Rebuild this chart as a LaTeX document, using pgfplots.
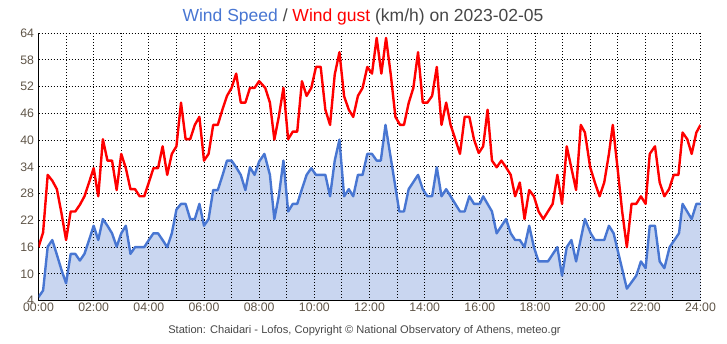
\documentclass[border=0pt]{standalone}
\usepackage{pgfplots}
\pgfplotsset{compat=1.18}
\usepackage{fontspec}
\setmainfont{Liberation Sans}
\definecolor{speedline}{RGB}{72,118,210}
\definecolor{speedfill}{RGB}{201,214,240}
\definecolor{gustline}{RGB}{255,0,0}
\definecolor{ticktext}{RGB}{95,85,72}
\definecolor{titlegray}{RGB}{70,70,70}
\begin{document}
\begin{tikzpicture}
\begin{axis}[
  set layers,
  at={(0,0)}, anchor=south west,
  scale only axis,
  width=662bp, height=267.7bp,
  xmin=0, xmax=24, ymin=4, ymax=64,
  xtick={0,2,...,24},
  xticklabels={00:00,02:00,04:00,06:00,08:00,10:00,12:00,14:00,16:00,18:00,20:00,22:00,24:00},
  minor xtick={1,3,...,23},
  ytick={4,10,...,64},
  grid=both,
  major grid style={black, line width=0.9bp, dash pattern=on 1bp off 2bp},
  minor grid style={black, line width=0.9bp, dash pattern=on 1bp off 2bp},
  major tick length=0pt, minor tick length=0pt,
  axis x line*=bottom, axis y line*=left,
  axis line style={black, line width=1.2bp, -},
  /pgf/number format/assume math mode=true,
  tick label style={font=\fontsize{12.3bp}{14bp}\selectfont, text=ticktext},
  yticklabel style={xshift=-1bp},
  xticklabel style={yshift=1bp},
  clip=true,
]
\addplot[on layer=axis background, fill=speedfill, draw=none] coordinates {
(0,4.8)(0.1667,6.3)(0.3333,16.1)(0.5,17.6)(0.6667,14.3)(0.8333,10.9)(1.0,7.9)(1.1667,14.5)(1.3333,14.5)(1.5,13.0)(1.6667,14.5)(1.8333,17.6)(2.0,20.8)(2.1667,17.6)(2.3333,22.3)(2.5,20.8)(2.6667,19.1)(2.8333,16.1)(3.0,19.1)(3.1667,20.8)(3.3333,14.5)(3.5,16.0)(3.6667,16.0)(3.8333,16.0)(4.0,17.6)(4.1667,19.1)(4.3333,19.1)(4.5,17.6)(4.6667,16.0)(4.8333,19.1)(5.0,24.4)(5.1667,25.7)(5.3333,25.7)(5.5,22.3)(5.6667,22.3)(5.8333,25.7)(6.0,20.8)(6.1667,22.3)(6.3333,28.8)(6.5,28.8)(6.6667,32.0)(6.8333,35.4)(7.0,35.4)(7.1667,33.9)(7.3333,32.2)(7.5,28.8)(7.6667,33.9)(7.8333,32.2)(8.0,35.2)
(8.19,36.9)(8.39,32.2)(8.55,22.3)(8.71,27.4)(8.88,35.4)(9.05,24.0)(9.22,25.7)(9.38,25.7)(9.55,29.0)(9.72,32.2)(9.89,33.7)(10.06,32.2)(10.40,32.2)(10.57,27.4)(10.74,35.4)(10.91,40.1)(11.08,27.4)(11.25,29.0)(11.41,27.4)(11.58,32.2)(11.75,32.2)(11.92,36.9)(12.09,36.9)(12.26,35.4)(12.41,35.4)(12.58,43.4)(13.08,24.0)(13.25,24.0)(13.42,29.0)(13.76,32.2)(13.93,29.0)(14.10,27.4)(14.27,27.4)(14.44,33.9)(14.61,27.4)(14.78,29.0)(15.11,25.7)(15.28,24.0)(15.45,24.0)(15.62,27.4)(15.79,25.7)(16.0,25.7)
(16.12,27.4)(16.44,24.0)(16.61,19.1)(16.95,22.3)(17.12,19.1)(17.28,17.6)(17.45,17.6)(17.62,16.0)(17.79,20.8)(17.96,16.0)(18.13,12.8)(18.47,12.8)(18.81,16.0)(18.98,9.6)(19.15,16.0)(19.32,17.6)(19.49,12.8)(19.81,22.3)(20.02,19.1)(20.17,17.6)(20.51,17.6)(20.68,20.8)(20.85,19.1)(21.33,6.7)(21.67,9.6)(21.84,12.8)(22.01,11.3)(22.16,20.8)(22.35,20.8)(22.52,12.8)(22.69,11.3)(22.88,16.0)(23.22,19.1)(23.35,25.7)(23.68,22.3)(23.85,25.7)(24.0,25.7)
} \closedcycle;
\addplot[speedline, line width=2.4bp, line join=round] coordinates {
(0,4.8)(0.1667,6.3)(0.3333,16.1)(0.5,17.6)(0.6667,14.3)(0.8333,10.9)(1.0,7.9)(1.1667,14.5)(1.3333,14.5)(1.5,13.0)(1.6667,14.5)(1.8333,17.6)(2.0,20.8)(2.1667,17.6)(2.3333,22.3)(2.5,20.8)(2.6667,19.1)(2.8333,16.1)(3.0,19.1)(3.1667,20.8)(3.3333,14.5)(3.5,16.0)(3.6667,16.0)(3.8333,16.0)(4.0,17.6)(4.1667,19.1)(4.3333,19.1)(4.5,17.6)(4.6667,16.0)(4.8333,19.1)(5.0,24.4)(5.1667,25.7)(5.3333,25.7)(5.5,22.3)(5.6667,22.3)(5.8333,25.7)(6.0,20.8)(6.1667,22.3)(6.3333,28.8)(6.5,28.8)(6.6667,32.0)(6.8333,35.4)(7.0,35.4)(7.1667,33.9)(7.3333,32.2)(7.5,28.8)(7.6667,33.9)(7.8333,32.2)(8.0,35.2)
(8.19,36.9)(8.39,32.2)(8.55,22.3)(8.71,27.4)(8.88,35.4)(9.05,24.0)(9.22,25.7)(9.38,25.7)(9.55,29.0)(9.72,32.2)(9.89,33.7)(10.06,32.2)(10.40,32.2)(10.57,27.4)(10.74,35.4)(10.91,40.1)(11.08,27.4)(11.25,29.0)(11.41,27.4)(11.58,32.2)(11.75,32.2)(11.92,36.9)(12.09,36.9)(12.26,35.4)(12.41,35.4)(12.58,43.4)(13.08,24.0)(13.25,24.0)(13.42,29.0)(13.76,32.2)(13.93,29.0)(14.10,27.4)(14.27,27.4)(14.44,33.9)(14.61,27.4)(14.78,29.0)(15.11,25.7)(15.28,24.0)(15.45,24.0)(15.62,27.4)(15.79,25.7)(16.0,25.7)
(16.12,27.4)(16.44,24.0)(16.61,19.1)(16.95,22.3)(17.12,19.1)(17.28,17.6)(17.45,17.6)(17.62,16.0)(17.79,20.8)(17.96,16.0)(18.13,12.8)(18.47,12.8)(18.81,16.0)(18.98,9.6)(19.15,16.0)(19.32,17.6)(19.49,12.8)(19.81,22.3)(20.02,19.1)(20.17,17.6)(20.51,17.6)(20.68,20.8)(20.85,19.1)(21.33,6.7)(21.67,9.6)(21.84,12.8)(22.01,11.3)(22.16,20.8)(22.35,20.8)(22.52,12.8)(22.69,11.3)(22.88,16.0)(23.22,19.1)(23.35,25.7)(23.68,22.3)(23.85,25.7)(24.0,25.7)
};
\addplot[gustline, line width=2.4bp, line join=round] coordinates {
(0,16.0)(0.1667,19.3)(0.3333,32.2)(0.5,30.9)(0.6667,29.0)(0.8333,23.6)(1.0,17.6)(1.1667,24.0)(1.3333,24.0)(1.5,25.5)(1.6667,27.4)(1.8333,30.5)(2.0,33.7)(2.1667,27.4)(2.3333,40.2)(2.5,35.4)(2.6667,35.4)(2.8333,28.8)(3.0,36.9)(3.1667,33.7)(3.3333,29.0)(3.5,29.0)(3.6667,27.4)(3.8333,27.4)(4.0,30.5)(4.1667,33.7)(4.3333,33.7)(4.5,38.6)(4.6667,32.2)(4.8333,36.9)(5.0,38.6)(5.1667,48.4)(5.3333,40.2)(5.5,40.2)(5.6667,43.4)(5.8333,45.2)(6.0,35.4)(6.1667,36.9)(6.3333,43.4)(6.5,43.4)(6.6667,46.8)(6.8333,49.9)(7.0,51.7)(7.1667,54.9)(7.3333,48.4)(7.5,48.4)(7.6667,51.7)(7.8333,51.7)(8.0,53.2)
(8.22,51.7)(8.39,48.4)(8.55,40.1)(8.71,45.2)(8.88,51.7)(9.05,40.2)(9.22,41.9)(9.38,41.9)(9.55,53.2)(9.72,49.9)(9.89,51.7)(10.06,56.4)(10.23,56.4)(10.40,46.8)(10.57,43.4)(10.74,54.7)(10.91,59.7)(11.08,49.8)(11.25,46.8)(11.41,45.2)(11.58,49.9)(11.75,51.7)(11.92,56.4)(12.09,54.9)(12.26,62.9)(12.43,54.9)(12.60,62.9)(12.77,54.7)(12.94,45.2)(13.11,43.4)(13.25,43.4)(13.42,48.3)(13.59,51.7)(13.76,59.7)(13.93,48.4)(14.10,48.4)(14.27,49.9)(14.44,56.4)(14.61,43.4)(14.78,48.4)(14.94,43.4)(15.11,40.2)(15.28,36.9)(15.45,45.2)(15.62,45.2)(15.79,40.1)(15.96,37.1)
(16.12,38.6)(16.28,46.8)(16.44,35.4)(16.61,33.9)(16.78,35.4)(16.95,33.9)(17.12,32.2)(17.28,27.4)(17.45,30.5)(17.62,22.3)(17.79,28.8)(17.96,27.4)(18.13,24.0)(18.30,22.3)(18.47,24.0)(18.64,25.7)(18.81,32.2)(18.98,25.7)(19.15,38.6)(19.32,33.7)(19.49,28.8)(19.66,43.4)(19.81,41.7)(20.0,33.9)(20.17,30.5)(20.34,27.4)(20.51,30.5)(20.68,36.9)(20.82,43.4)(20.99,33.9)(21.16,24.0)(21.33,16.0)(21.50,25.7)(21.67,25.7)(21.84,27.4)(22.01,25.7)(22.16,36.9)(22.35,38.6)(22.52,30.5)(22.69,27.4)(22.86,29.0)(23.03,32.2)(23.20,32.2)(23.35,41.7)(23.52,40.2)(23.68,36.9)(23.85,41.7)(24.0,43.4)
};
\end{axis}
\node[anchor=base, font=\fontsize{17.5bp}{20bp}\selectfont, inner sep=0pt] at (324.5bp,279bp)
  {\textcolor{speedline}{Wind Speed} \textcolor{titlegray}{/} \textcolor{gustline}{Wind gust} \textcolor{titlegray}{(km/h) on 2023-02-05}};
\node[anchor=base, font=\fontsize{11.1bp}{13bp}\selectfont, text=titlegray, inner sep=0pt] at (326bp,-32.3bp)
  {Station: Chaidari - Lofos, Copyright © National Observatory of Athens, meteo.gr};
\pgfresetboundingbox
\path[use as bounding box] (-38.5bp,-43.3bp) rectangle (688.5bp,300.7bp);
\end{tikzpicture}
\end{document}
